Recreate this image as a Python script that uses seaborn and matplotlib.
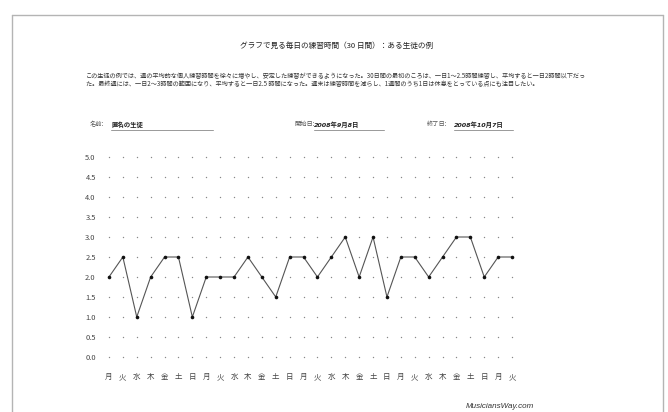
import numpy as np
import pandas as pd
import matplotlib
matplotlib.use("Agg")
import matplotlib.pyplot as plt
import seaborn as sns
from matplotlib.lines import Line2D

# Data: 30 days of practice (hours)
weekdays = ["月", "火", "水", "木", "金", "土", "日"] * 4 + ["月", "火"]
hours = [2.0, 2.5, 1.0, 2.0, 2.5, 2.5, 1.0,
         2.0, 2.0, 2.0, 2.5, 2.0, 1.5, 2.5,
         2.5, 2.0, 2.5, 3.0, 2.0, 3.0, 1.5,
         2.5, 2.5, 2.0, 2.5, 3.0, 3.0, 2.0,
         2.5, 2.5]
levels = [0.0, 0.5, 1.0, 1.5, 2.0, 2.5, 3.0, 3.5, 4.0, 4.5, 5.0]

title = "グラフで見る毎日の練習時間（30 日間）：ある生徒の例"
desc_lines = [
    "この生徒の例では、週の平均的な個人練習時間を徐々に増やし、安定した練習ができるようになった。30日間の最初のころは、一日1～2.5時間練習し、平均すると一日2時間以下だっ",
    "た。最終週には、一日2～3時間の範囲になり、平均すると一日2.5 時間になった。週末は練習時間を減らし、1週間のうち1日は休息をとっている点にも注目したい。",
]

sns.set_style("white")
plt.rcParams["font.family"] = ["Noto Sans CJK JP", "DejaVu Sans"]

W, H = 668, 412
fig = plt.figure(figsize=(W / 100, H / 100), dpi=100)


def fx(x):
    return x / W


def fy(y):
    return 1 - y / H


# page border
for xs, ys in [((12.5, 663), (15, 15)), ((12.5, 12.5), (15, 412)), ((663, 663), (15, 412))]:
    fig.add_artist(Line2D([fx(v) for v in xs], [fy(v) for v in ys],
                          color="#b4b4b4", lw=1.0, transform=fig.transFigure))

# header texts
fig.text(fx(337), fy(45.5), title, ha="center", va="center", fontsize=5.5, color="#222")
for i, line in enumerate(desc_lines):
    fig.text(fx(86), fy(76.5 + i * 8), line, ha="left", va="center", fontsize=4.45, color="#333")

# info row
info = [("名前:", 90, "匿名の生徒", 111, 213),
        ("開始日:", 294, "2008年9月8日", 314, 384),
        ("終了日:", 427, "2008年10月7日", 454, 513)]
for label, lx, value, vx, ux in info:
    fig.text(fx(lx), fy(124.3), label, ha="left", va="center", fontsize=4.5, color="#555")
    fig.text(fx(vx), fy(124.3), value, ha="left", va="center", fontsize=4.6,
             color="#222", fontweight="bold", style="italic",
             family=["DejaVu Sans", "Noto Sans CJK JP"])
    fig.add_artist(Line2D([fx(vx), fx(ux)], [fy(129.5), fy(129.5)],
                          color="#999", lw=0.7, transform=fig.transFigure))

# chart
ax = fig.add_axes([fx(102), fy(367), 417 / W, 220 / H])
grid_df = pd.DataFrame([(d, lv) for d in range(len(weekdays)) for lv in levels],
                       columns=["day", "level"])
sns.scatterplot(data=grid_df, x="day", y="level", s=1.0, color="#888",
                linewidth=0, ax=ax, legend=False)
df = pd.DataFrame({"day": range(len(hours)), "hours": hours})
sns.lineplot(data=df, x="day", y="hours", color="#555", lw=0.8, marker="o",
             markersize=2.6, markerfacecolor="#111", markeredgecolor="#111",
             markeredgewidth=0, ax=ax)

ax.set_xlim(-0.5, len(weekdays) - 0.5)
ax.set_ylim(-0.25, 5.25)
ax.set_xticks(range(len(weekdays)))
ax.set_xticklabels(weekdays)
ax.set_yticks(levels)
ax.set_yticklabels([f"{v:.1f}" for v in levels])
ax.tick_params(length=0, labelsize=5.4, colors="#444", pad=4.5)
ax.set_xlabel("")
ax.set_ylabel("")
for s in ax.spines.values():
    s.set_visible(False)

fig.text(fx(500), fy(406), "MusiciansWay.com", ha="center", va="center",
         fontsize=5.8, style="italic", color="#333", family="Liberation Sans")

fig.savefig("out.png", dpi=100)
